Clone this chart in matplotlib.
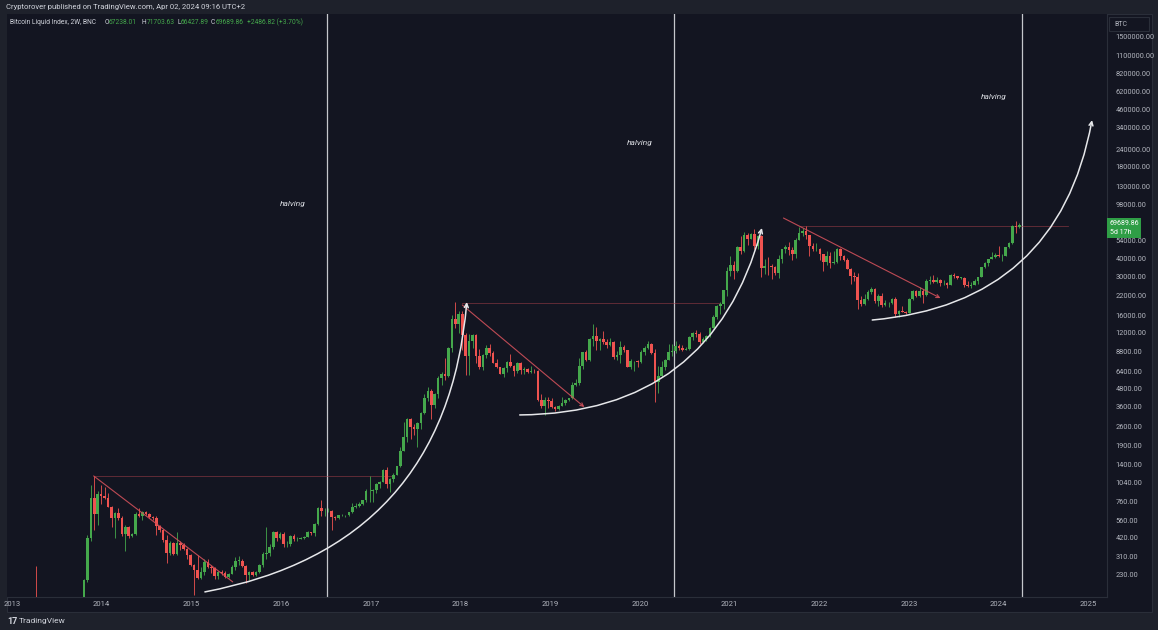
import numpy as np
import pandas as pd
import matplotlib
matplotlib.use('Agg')
import matplotlib.pyplot as plt
from matplotlib.patches import Rectangle

plt.rcParams['font.family'] = ['Roboto', 'DejaVu Sans']

# ---- data: 2W candles of Bitcoin Liquid Index (BNC), bar start 2013-03-25 ----
first_open = 75

highs = (
    # 2013
    [147, 266, 145, 125, 135, 125, 112, 98, 100, 108, 125, 140, 138, 140, 150, 215, 440, 1000, 1156, 900, 1000]
    # 2014
    + [960, 870, 710, 640, 680, 600, 520, 510, 455, 640, 680, 655, 650, 630, 600, 600, 520, 490, 440, 400, 390, 460, 400, 385, 355, 325]
    # 2015
    + [275, 320, 260, 300, 300, 270, 260, 245, 248, 245, 235, 270, 310, 315, 300, 270, 245, 245, 245, 275, 335, 500, 380, 470, 470, 460]
    # 2016
    + [460, 400, 440, 445, 425, 425, 430, 470, 465, 540, 700, 780, 680, 690, 665, 600, 615, 625, 612, 645, 740, 745, 755, 780, 930, 1150]
    # 2017
    + [930, 1030, 1060, 1290, 1330, 1120, 1220, 1360, 1850, 2780, 2980, 3000, 2700, 2800, 3300, 4400, 4950, 4800, 4450, 5900, 6300, 7900, 9500, 16000, 19800, 17200]
    # 2018
    + [17000, 12000, 11800, 11700, 11700, 9200, 8400, 9800, 9900, 8900, 7800, 6900, 6900, 7500, 8500, 7100, 7400, 7400, 6800, 6700, 7000, 6600, 6500, 4400, 4200, 4200]
    # 2019
    + [4100, 3650, 3700, 4200, 4050, 4150, 5350, 5600, 7900, 8800, 9100, 11000, 13800, 13200, 11000, 12300, 10900, 10950, 10400, 8900, 10500, 9800, 9100, 7800, 7600, 7700]
    # 2020
    + [9000, 9600, 10500, 10200, 9200, 7000, 7500, 7800, 9900, 10000, 10400, 10000, 9800, 9500, 11400, 12100, 12500, 12100, 11100, 11500, 13200, 15900, 18800, 19900, 24200, 35000]
    # 2021
    + [42000, 38500, 49000, 58300, 61800, 61000, 61200, 64800, 59600, 59600, 40000, 41300, 36600, 35900, 42500, 47200, 50500, 52900, 48800, 56500, 67000, 66000, 69000, 59500, 51900, 52100]
    # 2022
    + [47600, 43500, 45800, 44700, 45400, 48100, 48200, 42900, 40800, 34300, 32400, 31700, 21900, 22500, 24200, 25200, 25000, 22500, 22800, 20500, 19900, 21100, 21500, 17500, 18400, 17000]
    # 2023
    + [21300, 23900, 24200, 25200, 24400, 28900, 30500, 31000, 30000, 29000, 28400, 27400, 31400, 31800, 30400, 30000, 29700, 28100, 27500, 28600, 30000, 35300, 38000, 40200, 44700, 44000]
    # 2024
    + [49000, 43600, 48800, 53000, 69200, 73800, 71703.63]
)

lows = (
    [73, 50, 110, 106, 116, 98, 88, 66, 86, 92, 100, 118, 125, 110, 118, 148, 205, 400, 480, 520, 730]
    + [790, 700, 500, 420, 560, 430, 340, 420, 425, 440, 590, 560, 615, 580, 560, 440, 460, 395, 280, 320, 320, 320, 345, 345, 300, 265]
    + [165, 215, 215, 230, 255, 235, 215, 215, 230, 220, 218, 232, 250, 270, 260, 200, 210, 225, 225, 235, 260, 300, 315, 350, 400, 415]
    + [360, 360, 370, 400, 400, 410, 415, 425, 440, 435, 520, 600, 600, 640, 480, 565, 570, 600, 595, 605, 630, 680, 700, 725, 760, 750]
    + [750, 880, 950, 1040, 950, 890, 1040, 1170, 1340, 1730, 2000, 2100, 2250, 1850, 2500, 3200, 3950, 2950, 3500, 4150, 5100, 5500, 5800, 8700, 13000, 12000]
    + [9000, 6000, 6000, 9400, 7300, 6600, 6500, 7900, 8200, 7300, 6700, 6100, 5800, 6300, 6900, 5900, 6200, 6100, 6100, 6200, 6250, 6200, 3900, 3500, 3150, 3500]
    + [3500, 3350, 3400, 3600, 3700, 3900, 4050, 5000, 5100, 6600, 7500, 7600, 9700, 9100, 9100, 10000, 9300, 9600, 7800, 7700, 7300, 8700, 6800, 6600, 6450, 6900]
    + [7300, 8300, 9200, 8400, 3850, 4500, 5850, 6500, 7650, 8200, 8600, 9000, 8900, 9000, 9100, 10700, 11100, 9900, 10200, 10400, 11200, 12900, 14900, 16300, 17600, 21900]
    + [30300, 28800, 32300, 43000, 45000, 50400, 55000, 47000, 47000, 30000, 31100, 31000, 28800, 31000, 29300, 37500, 43900, 42800, 39600, 40800, 54200, 57800, 55700, 42000, 45600, 45700]
    + [39600, 32900, 36300, 34300, 37000, 37600, 39200, 38600, 33700, 26700, 28000, 17600, 18600, 18900, 20600, 22600, 19600, 18500, 18200, 18500, 18100, 19300, 15600, 15500, 16700, 16300]
    + [16500, 20400, 21400, 21500, 19600, 21900, 26600, 27100, 26900, 25800, 26100, 24800, 26200, 29500, 28900, 28600, 25200, 25400, 24900, 26000, 26500, 29700, 34300, 35600, 39800, 40600]
    + [41500, 38500, 41800, 48100, 50900, 60800, 66427.89]
)

closes = (
    [142, 120, 115, 122, 122, 102, 90, 92, 95, 104, 121, 130, 128, 137, 150, 210, 420, 800, 620, 860, 830]
    + [810, 700, 580, 630, 580, 450, 500, 430, 445, 620, 600, 640, 625, 590, 585, 510, 475, 405, 330, 385, 325, 385, 375, 350, 320, 270]
    + [250, 220, 240, 285, 260, 255, 225, 240, 235, 222, 234, 260, 290, 290, 265, 228, 240, 231, 240, 270, 325, 330, 360, 460, 420, 450]
    + [380, 380, 430, 410, 412, 420, 428, 460, 455, 530, 680, 650, 650, 655, 590, 580, 606, 608, 610, 640, 700, 705, 732, 775, 900, 905]
    + [920, 1020, 1050, 1270, 1020, 1100, 1180, 1350, 1750, 2200, 2950, 2550, 2500, 2750, 3250, 4100, 4600, 3700, 4400, 5700, 6150, 5900, 9300, 15000, 13900, 16200]
    + [11500, 8200, 10400, 11500, 8200, 6900, 8300, 9400, 8600, 7350, 6800, 6150, 6700, 7400, 7000, 6400, 7300, 6500, 6600, 6300, 6450, 6400, 4000, 3600, 4000, 3950]
    + [3550, 3450, 3650, 3800, 4000, 4100, 5100, 5250, 7000, 8700, 7700, 10800, 11400, 10500, 10800, 10300, 9750, 10300, 8050, 8300, 9550, 9000, 6900, 7500, 7500, 7400]
    + [8700, 9350, 9900, 8550, 5400, 5900, 6900, 7700, 8750, 8900, 9700, 9300, 9100, 9200, 11100, 11900, 11700, 10300, 10750, 11400, 13000, 15500, 18400, 19300, 24000, 33000]
    + [36000, 33100, 48700, 45200, 59000, 55800, 60000, 49000, 58200, 34700, 35800, 35600, 35300, 31800, 39900, 47000, 48800, 46000, 43200, 54700, 61000, 63300, 58700, 49400, 46700, 47300]
    + [43100, 37900, 42100, 37700, 37800, 46800, 42100, 39500, 34100, 30300, 29900, 20600, 19300, 20800, 23300, 24300, 20000, 21800, 18800, 19400, 19600, 20900, 16300, 17100, 16750, 16600]
    + [20900, 23700, 21800, 23500, 22100, 27900, 28300, 27500, 28500, 26800, 27100, 26300, 30600, 30300, 29300, 29300, 26000, 25800, 26300, 27900, 29900, 35000, 37400, 39900, 41400, 42300]
    + [41700, 42000, 48300, 51700, 68900, 67238.01, 69689.86]
)

price_ticks = [230, 310, 420, 560, 760, 1040, 1400, 1900, 2600, 3600, 4800, 6400, 8800,
               12000, 16000, 22000, 30000, 40000, 54000, 98000, 130000, 180000, 240000,
               340000, 460000, 620000, 820000, 1100000, 1500000]
year_ticks = list(range(2013, 2026))

# halving marks (fractional years) and labels
halvings = [2016.51, 2020.38, 2024.26]
halving_labels = [(2016.13, 98000), (2020.00, 265000), (2023.94, 563000)]

# drawn annotations: (t0, p0, t1, p1)
white_curves = [(2015.15, 174, 2018.07, 19800),
                (2018.66, 3130, 2021.36, 66300),
                (2022.59, 14750, 2025.04, 386000)]
red_trends = [(2013.91, 1156, 2015.46, 205),
              (2018.02, 18850, 2019.38, 3560),
              (2021.60, 78000, 2023.35, 21100)]
red_levels = [(2013.91, 2017.25, 1156),
              (2018.02, 2020.89, 19460),
              (2021.79, 2024.77, 68550)]

# ---- build ----
dates = pd.date_range('2013-03-25', periods=len(closes), freq='14D')
t = dates.year + (dates.dayofyear - 1) / 365.25
o = np.array([first_open] + closes[:-1], dtype=float)
c = np.array(closes, dtype=float)
h = np.array(highs, dtype=float)
l = np.array(lows, dtype=float)

UP = '#45a84c'
DOWN = '#ef5350'
PANE = '#131521'
FRAME = '#1e212b'
TXT = '#b2b5be'
W, H = 1158, 630

def fx(px):
    return px / W

def fy(py):
    return 1 - py / H

fig = plt.figure(figsize=(11.58, 6.3), dpi=100, facecolor=FRAME)
fig.patches.append(Rectangle((fx(7), fy(612)), fx(1152 - 7), (612 - 14) / H,
                             transform=fig.transFigure, facecolor=PANE,
                             edgecolor='#2a2e39', lw=0.8, zorder=-5))
ax = fig.add_axes([fx(7), fy(597), fx(1100), 583 / H])
ax.set_zorder(1)
ax.set_facecolor(PANE)
ax.set_yscale('log')
ax.set_xlim(2012.944, 2025.207)
ax.set_ylim(160.1, 2.183e6)

up = c >= o
cols = np.where(up, UP, DOWN)
ax.vlines(t, l, h, colors=cols, lw=0.6, zorder=3)
body_lo = np.minimum(o, c)
body_hi = np.maximum(np.maximum(o, c), body_lo * 1.008)
ax.bar(t, body_hi - body_lo, width=0.029, bottom=body_lo, color=cols,
       linewidth=0, zorder=4)

for x in halvings:
    ax.axvline(x, color='#c5c7cc', lw=0.9, zorder=2)
for x, y in halving_labels:
    ax.text(x, y, 'halving', color='#d8dae0', fontsize=6, style='italic',
            ha='center', va='center')

for t0, t1, p in red_levels:
    ax.plot([t0, t1], [p, p], color='#a8404a', lw=0.6, alpha=0.6, zorder=2)

for i, (t0, p0, t1, p1) in enumerate(red_trends):
    ax.annotate('', xy=(t1, p1), xytext=(t0, p0),
                arrowprops=dict(arrowstyle='-' if i == 0 else '->', color='#d0505a',
                                lw=0.8, alpha=0.9, shrinkA=0, shrinkB=0, mutation_scale=6),
                zorder=5)

for t0, p0, t1, p1 in white_curves:
    ax.annotate('', xy=(t1, p1), xytext=(t0, p0),
                arrowprops=dict(arrowstyle='->', color='#e6e7ea', lw=1.1,
                                connectionstyle='arc3,rad=0.38',
                                shrinkA=0, shrinkB=0, mutation_scale=7),
                zorder=6)

# axes styling
ax.yaxis.tick_right()
ax.set_yticks(price_ticks)
ax.set_yticklabels(['%.2f' % v for v in price_ticks])
ax.yaxis.set_minor_locator(matplotlib.ticker.NullLocator())
ax.set_xticks(year_ticks)
ax.set_xticklabels([str(y) for y in year_ticks])
ax.tick_params(axis='y', length=0, pad=6, labelsize=5.3, labelcolor=TXT)
ax.tick_params(axis='x', length=0, pad=3, labelsize=5.5, labelcolor=TXT)
for side in ['top', 'left']:
    ax.spines[side].set_visible(False)
for side in ['right', 'bottom']:
    ax.spines[side].set_color('#2a2e39')
    ax.spines[side].set_linewidth(0.8)

# current price label
fig.patches.append(Rectangle((fx(1107), fy(238)), fx(34), 20 / H,
                             transform=fig.transFigure, facecolor='#2f9e46',
                             edgecolor='none', zorder=5))
fig.text(fx(1110), fy(223), '69689.86', color='white', fontsize=5, va='center', zorder=6)
fig.text(fx(1110), fy(232), '5d 17h', color='white', fontsize=5, va='center', zorder=6)

# BTC unit box
fig.patches.append(Rectangle((fx(1109), fy(31)), fx(40), 14 / H,
                             transform=fig.transFigure, facecolor='none',
                             edgecolor='#2a2e39', lw=0.8, zorder=5))
fig.text(fx(1114), fy(24), 'BTC', color=TXT, fontsize=5, va='center')

# header and legend
fig.text(fx(6), fy(7), 'Cryptorover published on TradingView.com, Apr 02, 2024 09:16 UTC+2',
         color='#d1d4dc', fontsize=5.5, va='center')
legend_parts = [(10, 'Bitcoin Liquid Index, 2W, BNC', '#d1d4dc'),
                (105, 'O', '#d1d4dc'), (109, '67238.01', UP),
                (142, 'H', '#d1d4dc'), (147, '71703.63', UP),
                (177, 'L', '#d1d4dc'), (181, '66427.89', UP),
                (211, 'C', '#d1d4dc'), (216, '69689.86', UP),
                (247, '+2486.82 (+3.70%)', UP)]
for px, s, col in legend_parts:
    fig.text(fx(px), fy(22), s, color=col, fontsize=4.8, va='center')

# footer
fig.text(fx(7), fy(621), '17', color='#d1d4dc', fontsize=6.5, weight='bold', va='center')
fig.text(fx(19), fy(621), 'TradingView', color='#d1d4dc', fontsize=6, va='center')

fig.savefig('out.png', dpi=100, facecolor=FRAME)
